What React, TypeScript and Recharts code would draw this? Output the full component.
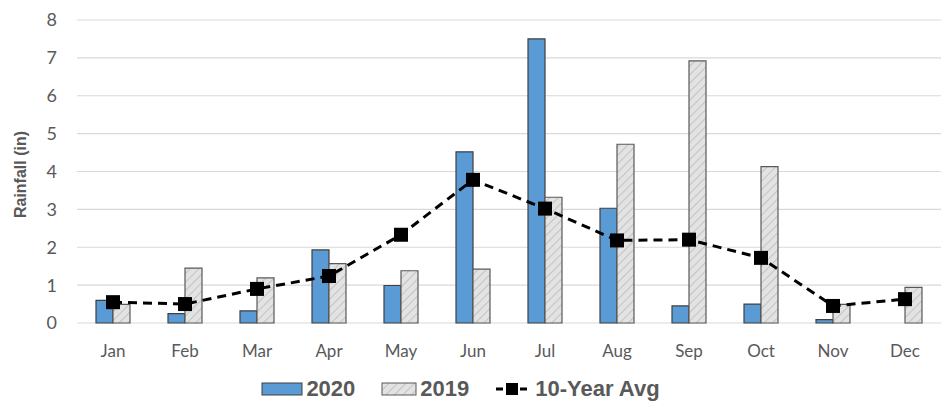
import { Bar, ComposedChart, CartesianGrid, Legend, Line, XAxis, YAxis } from "recharts";

const months = ["Jan", "Feb", "Mar", "Apr", "May", "Jun", "Jul", "Aug", "Sep", "Oct", "Nov", "Dec"];
const rain2020 = [0.6, 0.25, 0.32, 1.93, 0.99, 4.52, 7.5, 3.03, 0.45, 0.5, 0.09, 0];
const rain2019 = [0.49, 1.45, 1.19, 1.57, 1.38, 1.42, 3.32, 4.72, 6.92, 4.13, 0.49, 0.94];
const tenYearAvg = [0.55, 0.5, 0.9, 1.24, 2.33, 3.78, 3.02, 2.18, 2.2, 1.72, 0.45, 0.63];
const yTicks = [0, 1, 2, 3, 4, 5, 6, 7, 8];

const data = months.map((m, i) => ({
  month: m,
  y2020: rain2020[i],
  y2019: rain2019[i],
  avg: tenYearAvg[i],
}));

const textGray = "#595959";

function SquareDot(props: any) {
  const { cx, cy, index } = props;
  if (cx == null || cy == null) return null;
  return <rect key={`sq-${index}`} x={cx - 7} y={cy - 7} width={14} height={14} fill="#000" />;
}

function LegendContent() {
  const item = { display: "flex", alignItems: "center", marginRight: 26 } as const;
  const label = {
    fontFamily: "'Liberation Sans', Arial, sans-serif",
    fontWeight: 700,
    fontSize: 22,
    color: textGray,
  } as const;
  return (
    <div style={{ display: "flex", justifyContent: "center", alignItems: "center", height: 32, paddingTop: 2, boxSizing: "border-box", marginLeft: 6 }}>
      <div style={item}>
        <svg width={42} height={14} style={{ marginRight: 3 }}>
          <rect x={1} y={1} width={40} height={12} fill="#5b9bd5" stroke="#3f3f3f" strokeWidth={1} />
        </svg>
        <span style={label}>2020</span>
      </div>
      <div style={item}>
        <svg width={36} height={14} style={{ marginRight: 3 }}>
          <rect x={1} y={1} width={34} height={12} fill="url(#hatch)" stroke="#595959" strokeWidth={1} />
        </svg>
        <span style={label}>2019</span>
      </div>
      <div style={item}>
        <svg width={34} height={16} style={{ marginRight: 6 }}>
          <line x1={1} y1={8} x2={33} y2={8} stroke="#000" strokeWidth={3} strokeDasharray="7 5" />
          <rect x={11} y={2} width={12} height={12} fill="#000" />
        </svg>
        <span style={label}>10-Year Avg</span>
      </div>
    </div>
  );
}

function YLabel(props: any) {
  const vb = props.viewBox || { x: 0, y: 20, width: 77, height: 303 };
  const cx = vb.x + 20;
  const cy = vb.y + vb.height / 2 + 3;
  return (
    <text
      x={cx}
      y={cy}
      transform={`rotate(-90 ${cx} ${cy})`}
      textAnchor="middle"
      dominantBaseline="central"
      fill={textGray}
      fontFamily="'Liberation Sans', Arial, sans-serif"
      fontWeight={700}
      fontSize={16}
    >
      Rainfall (in)
    </text>
  );
}

export default function App() {
  return (
    <div style={{ position: "absolute", left: 0, top: 0, background: "#fff" }}>
      <ComposedChart
        width={943}
        height={404}
        data={data}
        margin={{ top: 20, right: 2, left: 0, bottom: 0 }}
        barGap={0}
        barCategoryGap="26%"
      >
        <defs>
          <pattern id="hatch" patternUnits="userSpaceOnUse" width={6} height={6} patternTransform="rotate(45)">
            <rect width={6} height={6} fill="#e3e3e3" />
            <line x1={0} y1={0} x2={0} y2={6} stroke="#c4c4c4" strokeWidth={2.2} />
          </pattern>
        </defs>
        <CartesianGrid vertical={false} stroke="#d9d9d9" strokeWidth={1.2} />
        <XAxis
          dataKey="month"
          height={49}
          axisLine={false}
          tickLine={false}
          tickMargin={16}
          tick={{ fill: textGray, fontSize: 17, fontFamily: "Lato, sans-serif" }}
        />
        <YAxis
          width={77}
          domain={[0, 8]}
          ticks={yTicks}
          axisLine={false}
          tickLine={false}
          tickMargin={14}
          tick={{ fill: textGray, fontSize: 18, fontFamily: "Lato, sans-serif" }}
          label={<YLabel />}
        />
        <Legend verticalAlign="bottom" content={<LegendContent />} />
        <Bar dataKey="y2020" name="2020" fill="#5b9bd5" stroke="#3f3f3f" strokeWidth={1.2} barSize={17} isAnimationActive={false} />
        <Bar dataKey="y2019" name="2019" fill="url(#hatch)" stroke="#595959" strokeWidth={1.2} barSize={17} isAnimationActive={false} />
        <Line
          dataKey="avg"
          name="10-Year Avg"
          type="linear"
          stroke="#000"
          strokeWidth={3}
          strokeDasharray="9 6"
          dot={<SquareDot />}
          activeDot={false}
          isAnimationActive={false}
        />
      </ComposedChart>
    </div>
  );
}
